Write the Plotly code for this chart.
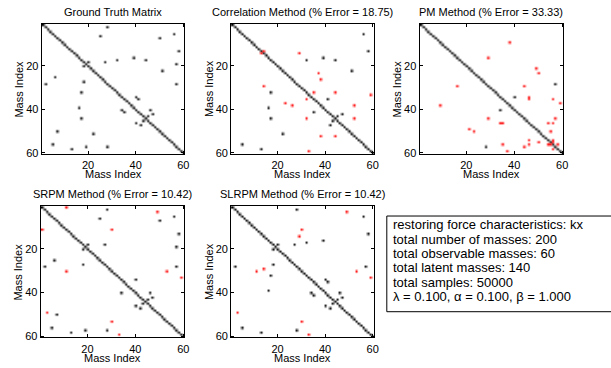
import numpy as np
import plotly.graph_objects as go

N = 60
TICKS = [20, 40, 60]

# Connections as (i, j) mass-index pairs; every pair is drawn symmetrically.
gt_pairs = [(2, 28), (6, 25), (7, 50), (5, 56), (13, 58), (19, 57), (28, 57), (22, 51),
            (16, 39), (17, 44), (17, 32), (18, 27), (18, 20), (34, 40), (35, 41),
            (40, 46), (42, 47), (43, 45)]

corr_hits = [(5, 56), (13, 58), (17, 32), (16, 39), (17, 44), (22, 51), (35, 41),
             (42, 47), (43, 45)]
corr_miss = [(13, 14), (14, 29), (23, 37), (26, 38), (32, 35), (32, 44), (33, 59),
             (38, 52), (44, 52)]

pm_hits = [(28, 57), (34, 40)]
pm_miss = [(9, 38), (16, 29), (21, 49), (23, 50), (29, 44), (34, 46), (35, 46), (35, 56),
           (37, 59), (44, 57), (46, 54), (46, 56), (50, 55), (56, 58), (54, 56), (55, 56)]

srpm_hits = [(2, 28), (6, 25), (7, 50), (5, 56), (13, 58), (19, 57), (28, 57), (18, 27),
             (18, 20), (34, 40), (40, 46), (42, 47), (43, 45)]
srpm_miss = [(1, 11), (3, 49), (11, 30), (30, 53), (33, 59)]

slrpm_hits = [(2, 28), (5, 56), (13, 58), (28, 57), (18, 27), (18, 20), (17, 32), (16, 39),
              (34, 40), (35, 41), (40, 46), (42, 47), (43, 45)]
slrpm_miss = [(3, 49), (11, 30), (14, 29), (30, 53), (33, 59)]

titles = ["Ground Truth Matrix",
          "Correlation Method (% Error = 18.75)",
          "PM Method (% Error = 33.33)",
          "SRPM Method (% Error = 10.42)",
          "SLRPM Method (% Error = 10.42)"]

info_lines = ["restoring force characteristics: kx",
              "total number of masses: 200",
              "total observable masses: 60",
              "total latent masses: 140",
              "total samples: 50000",
              "\u03bb = 0.100, \u03b1 = 0.100, \u03b2 = 1.000"]

W, H = 611, 368
FONT = "Liberation Sans, Arial, Helvetica, sans-serif"
BLACK_SCALE = [[0, "rgba(0,0,0,0)"], [1, "rgba(0,0,0,1)"]]
RED_SCALE = [[0, "rgba(255,0,0,0)"], [1, "rgba(255,0,0,1)"]]
idx = np.arange(1, N + 1)


def px(x):
    return x / W


def py(y):
    return 1 - y / H


def adjacency(pairs, diagonal=False):
    m = np.eye(N) if diagonal else np.zeros((N, N))
    for i, j in pairs:
        m[i - 1, j - 1] = 1
        m[j - 1, i - 1] = 1
    return m


panels = [
    (gt_pairs, [], (42, 186, 24, 156)),
    (corr_hits, corr_miss, (233, 377, 24, 156)),
    (pm_hits, pm_miss, (423, 568, 24, 156)),
    (srpm_hits, srpm_miss, (41, 186, 209, 342)),
    (slrpm_hits, slrpm_miss, (233, 377, 209, 342)),
]

fig = go.Figure()
annotations = []
axis_style = dict(tickvals=TICKS, ticks="inside", ticklen=3, tickwidth=1,
                  tickcolor="black", showline=True, linecolor="black", linewidth=1,
                  mirror="allticks", showgrid=False, zeroline=False,
                  tickfont=dict(family=FONT, size=11, color="black"))

for n, ((hits, miss, box), title) in enumerate(zip(panels, titles), start=1):
    x0, x1, y0, y1 = box
    sfx = "" if n == 1 else str(n)
    for z, scale in ((adjacency(hits, diagonal=True), BLACK_SCALE),
                     (adjacency(miss), RED_SCALE)):
        fig.add_trace(go.Heatmap(z=z, x=idx, y=idx, zmin=0, zmax=1, colorscale=scale,
                                 showscale=False, zsmooth="best", hoverinfo="skip",
                                 xaxis="x" + sfx, yaxis="y" + sfx))
    xa = dict(axis_style, domain=[px(x0), px(x1)], range=[0.5, N + 0.5], anchor="y" + sfx,
              ticklabelstandoff=1)
    ya = dict(axis_style, domain=[py(y1), py(y0)], range=[N + 0.5, 0.5], anchor="x" + sfx)
    fig.update_layout({"xaxis" + sfx: xa, "yaxis" + sfx: ya})
    cx = (x0 + x1) / 2
    cy = (y0 + y1) / 2
    annotations.append(dict(text=title, x=px(cx), y=py(y0 - 12), xref="paper", yref="paper",
                            xanchor="center", yanchor="middle", showarrow=False,
                            font=dict(family=FONT, size=11, color="black")))
    annotations.append(dict(text="Mass Index", x=px(cx), y=py(y1 + 20.5), xref="paper",
                            yref="paper", xanchor="center", yanchor="middle", showarrow=False,
                            font=dict(family=FONT, size=11, color="black")))
    annotations.append(dict(text="Mass Index", x=px(x0 - 23), y=py(cy), xref="paper",
                            yref="paper", xanchor="center", yanchor="middle", textangle=-90,
                            showarrow=False, font=dict(family=FONT, size=11, color="black")))

for k, line in enumerate(info_lines):
    annotations.append(dict(text=line, x=px(394), y=py(228 + 14.5 * k), xref="paper",
                            yref="paper", xanchor="left", yanchor="middle", showarrow=False,
                            font=dict(family=FONT, size=13, color="black")))

fig.update_layout(
    width=W, height=H, margin=dict(l=0, r=0, t=0, b=0),
    paper_bgcolor="white", plot_bgcolor="white",
    annotations=annotations,
    shapes=[dict(type="rect", xref="paper", yref="paper", x0=px(390), x1=px(640),
                 y0=py(316), y1=py(219), line=dict(color="black", width=1))],
    showlegend=False,
)

fig.write_html("out.html")
